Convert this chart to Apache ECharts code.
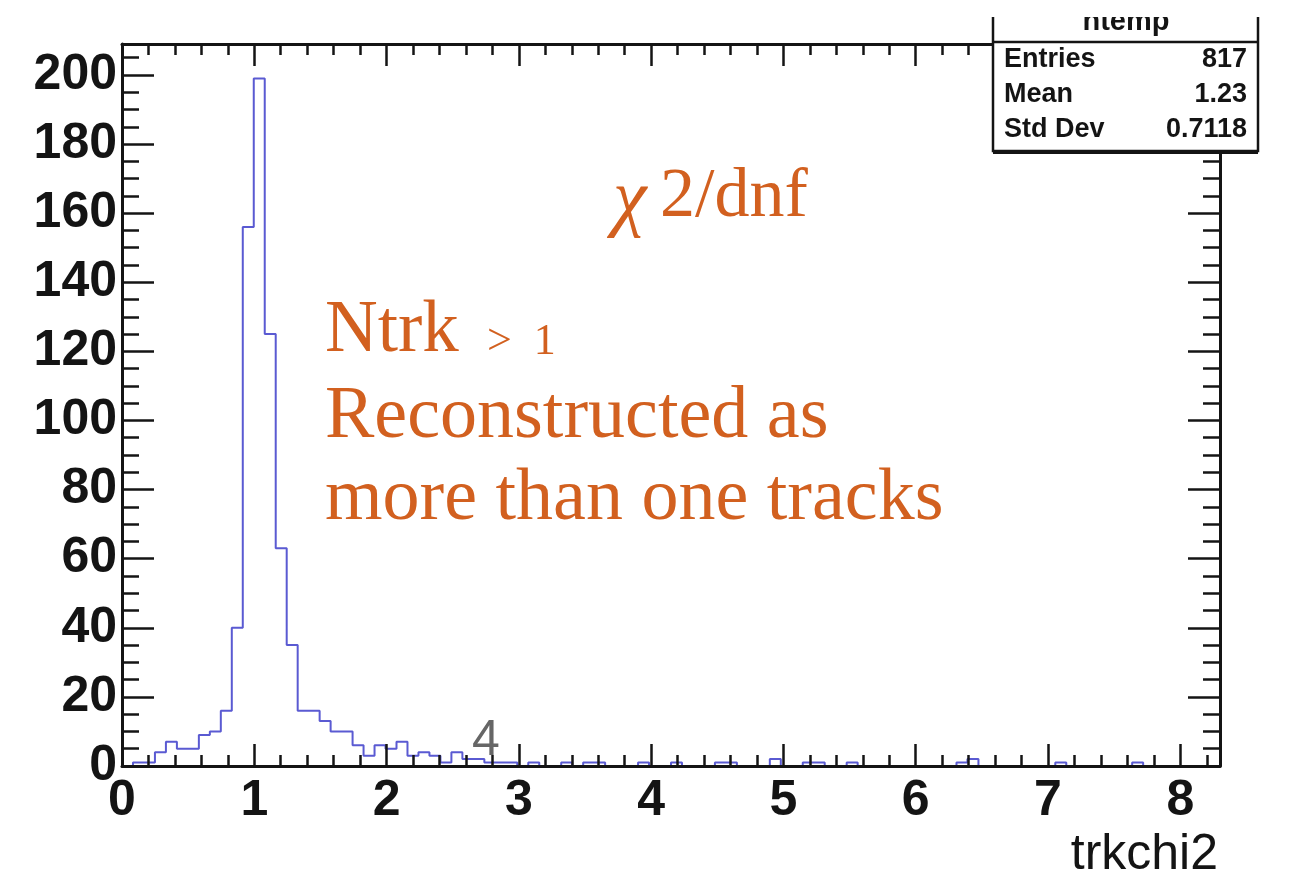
<!DOCTYPE html>
<html>
<head>
<meta charset="utf-8">
<script src="https://cdn.jsdelivr.net/npm/echarts@6/dist/echarts.min.js"></script>
<style>
  html, body { margin: 0; padding: 0; background: #ffffff; }
  #chart { width: 1297px; height: 879px; }
</style>
</head>
<body>
<div id="chart"></div>
<script>
// Histogram of track chi2/ndf, 100 bins over [0, 8.3]
const histName = 'ntemp';
const xTitle = 'trkchi2';
const xRange = [0, 8.3];
const nBins = 100;
const yMax = 208.95;

// Bin contents, bin 0 .. bin 99
const binCounts = [
  0, 1, 1, 4, 7, 5, 5, 9, 10, 16,
  40, 156, 199, 125, 63, 35, 16, 16, 13, 10,
  10, 6, 3, 6, 5, 7, 3, 4, 3, 1,
  4, 2, 2, 1, 1, 1, 0, 1, 0, 0,
  1, 0, 1, 1, 0, 0, 0, 1, 0, 0,
  1, 0, 0, 0, 1, 1, 0, 0, 0, 2,
  0, 0, 1, 1, 0, 0, 1, 0, 0, 0,
  0, 0, 0, 0, 0, 0, 1, 2, 0, 0,
  0, 0, 0, 0, 0, 1, 0, 0, 0, 0,
  0, 0, 1, 0, 0, 0, 0, 0, 0, 0
];

// Statistics box
const statLabels = ['Entries', 'Mean', 'Std Dev'];
const statValues = ['817', '1.23', '0.7118'];

// Annotations
const chiLabel = ['\u03c7', '2/dnf'];
const ntrkLabel = ['Ntrk', '>  1'];
const noteLines = ['Reconstructed as', 'more than one tracks'];
const strayLabel = '4';

// Build the step outline from bin edges
const binWidth = (xRange[1] - xRange[0]) / nBins;
const stepData = binCounts.map((c, i) => [xRange[0] + i * binWidth, c]);
stepData.push([xRange[1], binCounts[nBins - 1]]);

const ink = '#141414';
const orange = '#d2601f';
const sans = '"Liberation Sans", Arial, Helvetica, sans-serif';
const serif = '"Liberation Serif", "Times New Roman", serif';

const isInt = v => Math.abs(v - Math.round(v)) < 1e-6;

function xAxisDef(position, withLabels) {
  return {
    type: 'value', position, min: xRange[0], max: xRange[1], interval: 1, z: 5,
    axisLine: { show: true, onZero: false, lineStyle: { color: ink, width: 3 } },
    axisTick: { show: true, inside: true, length: 22, lineStyle: { color: ink, width: 2.5 } },
    minorTick: { show: true, splitNumber: 5, length: 11, lineStyle: { color: ink, width: 2.5 } },
    splitLine: { show: false }, minorSplitLine: { show: false },
    axisLabel: withLabels ? {
      show: true, margin: 10, color: ink, fontFamily: sans, fontWeight: 'bold', fontSize: 50,
      formatter: v => isInt(v) ? String(Math.round(v)) : ''
    } : { show: false }
  };
}

function yAxisDef(position, withLabels) {
  return {
    type: 'value', position, min: 0, max: yMax, interval: 20, z: 5,
    axisLine: { show: true, onZero: false, lineStyle: { color: ink, width: 3 } },
    axisTick: { show: true, inside: true, length: 32, lineStyle: { color: ink, width: 2.5 } },
    minorTick: { show: true, splitNumber: 4, length: 17, lineStyle: { color: ink, width: 2.5 } },
    splitLine: { show: false }, minorSplitLine: { show: false },
    axisLabel: withLabels ? {
      show: true, margin: 5, color: ink, fontFamily: sans, fontWeight: 'bold', fontSize: 50,
      formatter: v => (isInt(v) && Math.round(v) % 20 === 0) ? String(Math.round(v)) : ''
    } : { show: false }
  };
}

function txt(text, x, y, opts, z) {
  return {
    type: 'text', z: z || 120, x, y,
    style: Object.assign({
      text, fill: ink, fontFamily: sans, fontSize: 27, fontWeight: 'bold',
      align: 'left', verticalAlign: 'middle'
    }, opts || {})
  };
}

const graphics = [
  // statistics box (its upper edge runs off the top of the canvas)
  { type: 'rect', z: 110, shape: { x: 993, y: -10, width: 265, height: 161 },
    style: { fill: '#ffffff', stroke: ink, lineWidth: 2.5 } },
  { type: 'line', z: 111, shape: { x1: 993, y1: 153, x2: 1258, y2: 153 },
    style: { stroke: ink, lineWidth: 2 } },
  { type: 'line', z: 111, shape: { x1: 993, y1: 42, x2: 1258, y2: 42 },
    style: { stroke: ink, lineWidth: 2.5 } },
  txt(histName, 1126, 22, { align: 'center', fontSize: 29 }, 112),
  { type: 'rect', z: 115, shape: { x: 985, y: -10, width: 285, height: 27 },
    style: { fill: '#ffffff' } },
  txt(statLabels[0], 1004, 59.5),
  txt(statLabels[1], 1004, 94.5),
  txt(statLabels[2], 1004, 129.5),
  txt(statValues[0], 1247, 59.5, { align: 'right' }),
  txt(statValues[1], 1247, 94.5, { align: 'right' }),
  txt(statValues[2], 1247, 129.5, { align: 'right' }),
  // axis title
  txt(xTitle, 1218, 855, { align: 'right', fontWeight: 'normal', fontSize: 50 }),
  // annotations
  txt(chiLabel[0], 613, 202, { fill: orange, fontFamily: serif, fontStyle: 'italic', fontWeight: 'normal', fontSize: 76 }),
  txt(chiLabel[1], 660, 198, { fill: orange, fontFamily: serif, fontWeight: 'normal', fontSize: 70 }),
  txt(ntrkLabel[0], 325, 332, { fill: orange, fontFamily: serif, fontWeight: 'normal', fontSize: 73 }),
  txt(ntrkLabel[1], 487, 342, { fill: orange, fontFamily: serif, fontWeight: 'normal', fontSize: 44 }),
  txt(noteLines[0], 325, 418, { fill: orange, fontFamily: serif, fontWeight: 'normal', fontSize: 74 }),
  txt(noteLines[1], 325, 500, { fill: orange, fontFamily: serif, fontWeight: 'normal', fontSize: 74 }),
  txt(strayLabel, 472, 741, { fill: '#666666', fontWeight: 'normal', fontSize: 50 })
];

const chart = echarts.init(document.getElementById('chart'), null, { renderer: 'canvas' });
chart.setOption({
  animation: false,
  backgroundColor: '#ffffff',
  grid: { left: 122, right: 77, top: 44, bottom: 113, containLabel: false, outerBoundsMode: 'none' },
  xAxis: [xAxisDef('bottom', true), xAxisDef('top', false)],
  yAxis: [yAxisDef('left', true), yAxisDef('right', false)],
  series: [{
    type: 'line', xAxisIndex: 0, yAxisIndex: 0, step: 'end', data: stepData,
    showSymbol: false, symbol: 'none', z: 2,
    lineStyle: { color: '#5a5ad2', width: 2 }
  }],
  graphic: graphics
});
</script>
</body>
</html>
